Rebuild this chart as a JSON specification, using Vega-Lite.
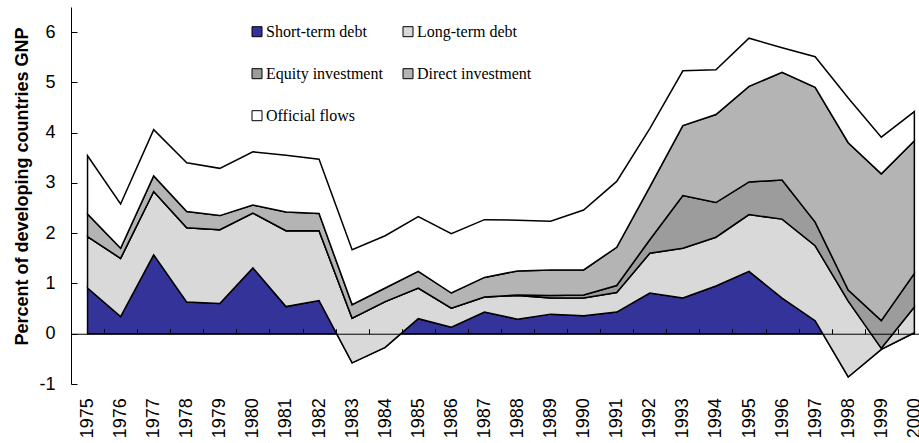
{
  "$schema": "https://vega.github.io/schema/vega-lite/v6.json",
  "width": 848,
  "height": 377,
  "autosize": {"type": "none"},
  "padding": {"left": 71, "top": 7, "right": 0, "bottom": 59},
  "background": "white",
  "config": {"view": {"stroke": null}},
  "data": {
    "values": [
      {"year": 1975, "short_term": 0.91, "long_term": 1.93, "equity": 1.93, "direct": 2.38, "official": 3.54},
      {"year": 1976, "short_term": 0.34, "long_term": 1.50, "equity": 1.50, "direct": 1.70, "official": 2.58},
      {"year": 1977, "short_term": 1.57, "long_term": 2.83, "equity": 2.83, "direct": 3.14, "official": 4.06},
      {"year": 1978, "short_term": 0.63, "long_term": 2.11, "equity": 2.11, "direct": 2.43, "official": 3.40},
      {"year": 1979, "short_term": 0.60, "long_term": 2.07, "equity": 2.07, "direct": 2.35, "official": 3.29},
      {"year": 1980, "short_term": 1.31, "long_term": 2.40, "equity": 2.40, "direct": 2.56, "official": 3.62},
      {"year": 1981, "short_term": 0.54, "long_term": 2.05, "equity": 2.05, "direct": 2.42, "official": 3.55},
      {"year": 1982, "short_term": 0.66, "long_term": 2.05, "equity": 2.05, "direct": 2.39, "official": 3.47},
      {"year": 1983, "short_term": -0.58, "long_term": 0.31, "equity": 0.31, "direct": 0.58, "official": 1.67},
      {"year": 1984, "short_term": -0.27, "long_term": 0.64, "equity": 0.64, "direct": 0.91, "official": 1.95},
      {"year": 1985, "short_term": 0.30, "long_term": 0.91, "equity": 0.91, "direct": 1.24, "official": 2.33},
      {"year": 1986, "short_term": 0.13, "long_term": 0.51, "equity": 0.51, "direct": 0.81, "official": 1.99},
      {"year": 1987, "short_term": 0.43, "long_term": 0.73, "equity": 0.73, "direct": 1.12, "official": 2.27},
      {"year": 1988, "short_term": 0.29, "long_term": 0.76, "equity": 0.77, "direct": 1.25, "official": 2.26},
      {"year": 1989, "short_term": 0.39, "long_term": 0.71, "equity": 0.76, "direct": 1.27, "official": 2.24},
      {"year": 1990, "short_term": 0.36, "long_term": 0.71, "equity": 0.77, "direct": 1.27, "official": 2.46},
      {"year": 1991, "short_term": 0.43, "long_term": 0.82, "equity": 0.96, "direct": 1.72, "official": 3.03},
      {"year": 1992, "short_term": 0.81, "long_term": 1.60, "equity": 1.87, "direct": 2.92, "official": 4.08},
      {"year": 1993, "short_term": 0.71, "long_term": 1.70, "equity": 2.75, "direct": 4.14, "official": 5.23},
      {"year": 1994, "short_term": 0.95, "long_term": 1.92, "equity": 2.61, "direct": 4.36, "official": 5.25},
      {"year": 1995, "short_term": 1.24, "long_term": 2.37, "equity": 3.02, "direct": 4.92, "official": 5.88},
      {"year": 1996, "short_term": 0.71, "long_term": 2.28, "equity": 3.06, "direct": 5.20, "official": 5.69},
      {"year": 1997, "short_term": 0.26, "long_term": 1.75, "equity": 2.22, "direct": 4.90, "official": 5.51},
      {"year": 1998, "short_term": -0.86, "long_term": 0.65, "equity": 0.87, "direct": 3.80, "official": 4.69},
      {"year": 1999, "short_term": -0.31, "long_term": -0.29, "equity": 0.26, "direct": 3.18, "official": 3.91},
      {"year": 2000, "short_term": 0.02, "long_term": 0.53, "equity": 1.20, "direct": 3.84, "official": 4.42}
    ]
  },
  "encoding": {
    "x": {
      "field": "year",
      "type": "quantitative",
      "scale": {"domain": [1974.5, 2000.14], "nice": false, "zero": false},
      "axis": {
        "values": [1975, 1976, 1977, 1978, 1979, 1980, 1981, 1982, 1983, 1984, 1985, 1986, 1987, 1988, 1989, 1990, 1991, 1992, 1993, 1994, 1995, 1996, 1997, 1998, 1999, 2000],
        "format": "d",
        "orient": "bottom",
        "offset": -50.27,
        "tickSize": -5,
        "tickOffset": 16.54,
        "labelOffset": -16.54,
        "labelAngle": -90,
        "labelPadding": 69,
        "labelFont": "Liberation Sans",
        "labelFontSize": 18,
        "labelColor": "black",
        "domainColor": "black",
        "tickColor": "black",
        "domainWidth": 1,
        "tickWidth": 1,
        "grid": false,
        "title": null,
        "zindex": 1,
        "labelFlush": false,
        "labelOverlap": false,
        "labelBound": false
      }
    }
  },
  "layer": [
    {
      "mark": {"type": "area", "stroke": "black", "strokeWidth": 1.5, "interpolate": "linear"},
      "encoding": {
        "y": {
          "field": "short_term",
          "type": "quantitative",
          "stack": null,
          "title": "Percent of developing countries GNP",
          "scale": {"domain": [-1, 6.5], "nice": false, "zero": false},
          "axis": {
            "values": [-1, 0, 1, 2, 3, 4, 5, 6],
            "labelExpr": "replace(datum.label, '\u2212', '-')",
            "orient": "left",
            "tickSize": -6,
            "labelPadding": 22,
            "labelFont": "Liberation Sans",
            "labelFontSize": 18,
            "labelColor": "black",
            "domainColor": "black",
            "tickColor": "black",
            "grid": false,
            "titleFont": "Liberation Sans",
            "titleFontSize": 18,
            "titleFontWeight": "bold",
            "titleColor": "black",
            "titleX": -49,
            "titleY": 179,
            "titleAngle": -90,
            "titleAlign": "center",
            "titleBaseline": "middle",
            "zindex": 1,
            "labelFlush": false
          }
        },
        "y2": {"datum": 0},
        "color": {
          "datum": "Short-term debt",
          "type": "nominal",
          "scale": {
            "domain": ["Short-term debt", "Long-term debt", "Equity investment", "Direct investment", "Official flows"],
            "range": ["#333399", "#d9d9d9", "#9c9c9c", "#b4b4b4", "#ffffff"]
          },
          "legend": {
            "orient": "none",
            "direction": "horizontal",
            "legendX": 178,
            "legendY": 16.7,
            "columns": 2,
            "columnPadding": 17,
            "rowPadding": 26,
            "symbolType": "square",
            "symbolSize": 100,
            "symbolStrokeColor": "black",
            "symbolStrokeWidth": 1,
            "symbolOpacity": 1,
            "labelFont": "Liberation Serif",
            "labelFontSize": 16,
            "labelColor": "black",
            "labelOffset": 1,
            "labelLimit": 300,
            "title": null,
            "padding": 0
          }
        }
      }
    },
    {
      "mark": {"type": "area", "stroke": "black", "strokeWidth": 1.5, "interpolate": "linear"},
      "encoding": {
        "y": {"field": "long_term", "type": "quantitative", "stack": null, "title": "Percent of developing countries GNP"},
        "y2": {"field": "short_term"},
        "color": {"datum": "Long-term debt", "type": "nominal"}
      }
    },
    {
      "mark": {"type": "area", "stroke": "black", "strokeWidth": 1.5, "interpolate": "linear"},
      "encoding": {
        "y": {"field": "equity", "type": "quantitative", "stack": null, "title": "Percent of developing countries GNP"},
        "y2": {"field": "long_term"},
        "color": {"datum": "Equity investment", "type": "nominal"}
      }
    },
    {
      "mark": {"type": "area", "stroke": "black", "strokeWidth": 1.5, "interpolate": "linear"},
      "encoding": {
        "y": {"field": "direct", "type": "quantitative", "stack": null, "title": "Percent of developing countries GNP"},
        "y2": {"field": "equity"},
        "color": {"datum": "Direct investment", "type": "nominal"}
      }
    },
    {
      "mark": {"type": "area", "stroke": "black", "strokeWidth": 1.5, "interpolate": "linear"},
      "encoding": {
        "y": {"field": "official", "type": "quantitative", "stack": null, "title": "Percent of developing countries GNP"},
        "y2": {"field": "direct"},
        "color": {"datum": "Official flows", "type": "nominal"}
      }
    }
  ]
}
